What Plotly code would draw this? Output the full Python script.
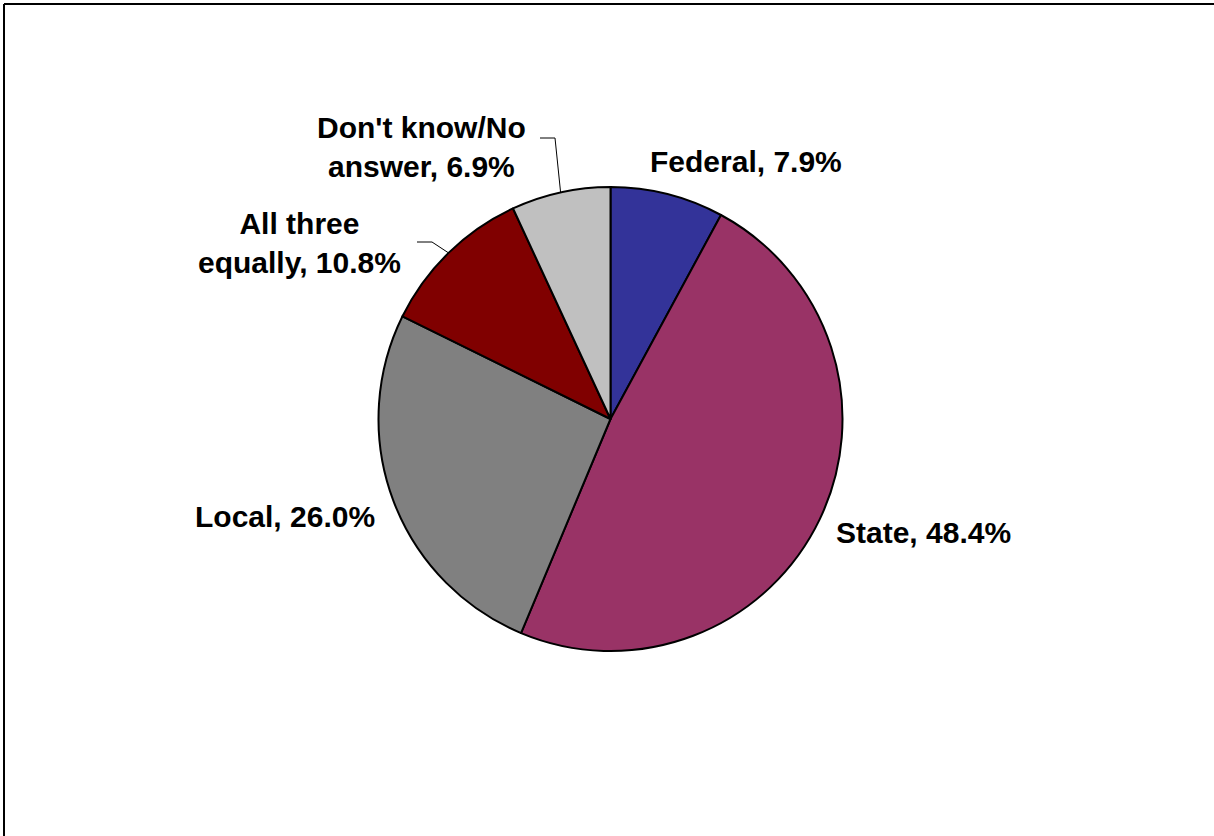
import math
import plotly.graph_objects as go

# Survey shares by level of government
categories = ["Federal", "State", "Local", "All three<br>equally", "Don't know/No<br>answer"]
shares = [7.9, 48.4, 26.0, 10.8, 6.9]
colors = ["#333399", "#993366", "#808080", "#800000", "#C0C0C0"]

W, H = 1214, 836
CX, CY, R = 610.5, 419.0, 232.0  # pie centre and radius in pixels

# Label centres (pixels) and where a leader line starts, if any
label_pos = [(746, 161), (923, 532), (285, 516), (299, 243), (421, 147)]
leader_start = [None, None, None, (417, 242), (540, 138)]


def px(x):
    return x / W


def py(y):
    return 1 - y / H


fig = go.Figure(
    go.Pie(
        labels=[c.replace("<br>", " ") for c in categories],
        values=shares,
        sort=False,
        direction="clockwise",
        rotation=0,
        marker=dict(colors=colors, line=dict(color="black", width=2)),
        textinfo="none",
        hoverinfo="skip",
        showlegend=False,
        domain=dict(x=[px(CX - R), px(CX + R)], y=[py(CY + R), py(CY - R)]),
    )
)

total = sum(shares)
cum = 0.0
shapes = []
annotations = []
for cat, val, pos, start in zip(categories, shares, label_pos, leader_start):
    mid = (cum + val / 2) / total * 2 * math.pi
    cum += val
    annotations.append(
        dict(
            x=px(pos[0]), y=py(pos[1]), xref="paper", yref="paper",
            text=f"<b>{cat}, {val:.1f}%</b>", showarrow=False,
            xanchor="center", yanchor="middle", align="center",
            font=dict(family="Liberation Sans, Arial", size=30, color="black"),
        )
    )
    if start is not None:
        ex = CX + R * math.sin(mid)
        ey = CY - R * math.cos(mid)
        elbow = (start[0] + 15 if ex > start[0] else start[0] - 15, start[1])
        path = (f"M {px(start[0])},{py(start[1])} L {px(elbow[0])},{py(elbow[1])} "
                f"L {px(ex)},{py(ey)}")
        shapes.append(dict(type="path", xref="paper", yref="paper", path=path,
                           line=dict(color="black", width=1)))

# chart frame (top and left edges visible)
shapes.append(dict(type="line", xref="paper", yref="paper",
                   x0=px(4), y0=py(4), x1=1.0, y1=py(4), line=dict(color="black", width=2)))
shapes.append(dict(type="line", xref="paper", yref="paper",
                   x0=px(4), y0=py(4), x1=px(4), y1=0.0, line=dict(color="black", width=2)))

fig.update_layout(
    width=W, height=H,
    margin=dict(l=0, r=0, t=0, b=0),
    paper_bgcolor="white", plot_bgcolor="white",
    annotations=annotations, shapes=shapes,
)

fig.write_html("out.html")
